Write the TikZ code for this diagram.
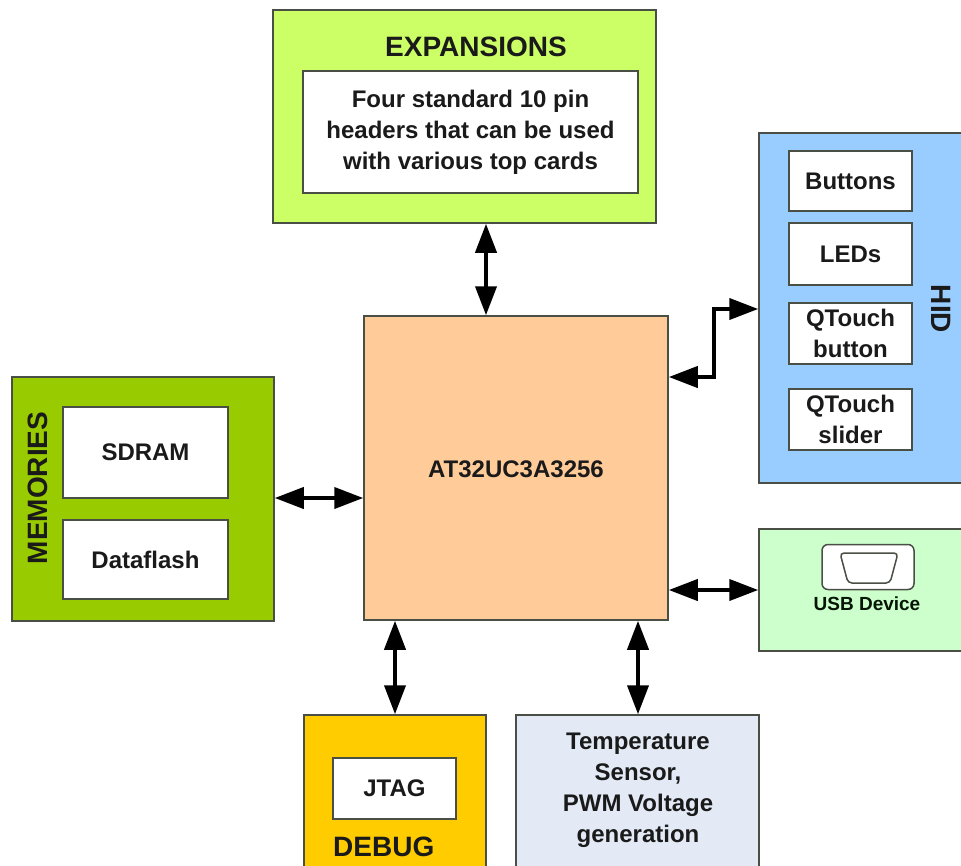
\documentclass[tikz,border=0pt]{standalone}
\usepackage{fontspec}
\setmainfont{Liberation Sans}
\usetikzlibrary{arrows.meta,calc}
\definecolor{cExp}{HTML}{CCFF66}
\definecolor{cHid}{HTML}{99CCFF}
\definecolor{cUsb}{HTML}{CCFFCC}
\definecolor{cCore}{HTML}{FFCC99}
\definecolor{cMem}{HTML}{99CC00}
\definecolor{cDbg}{HTML}{FFCC00}
\definecolor{cTmp}{HTML}{E3EAF6}
\definecolor{cLine}{HTML}{4A4F45}
\definecolor{cInk}{HTML}{1A1A1A}
\tikzset{
  x=1pt,y=-1pt,
  box/.style={draw=cLine,line width=1.5pt,inner sep=0pt,align=center,text=cInk,font=\fontsize{24}{31}\selectfont\bfseries},
  inner box/.style={box,fill=white,draw=#1},
  inner box/.default=cLine,
  title text/.style={inner sep=0pt,text=cInk,font=\fontsize{28}{32}\selectfont\bfseries},
  link/.style={draw=black,line width=4pt,{Triangle[length=29pt,width=21pt]}-{Triangle[length=29pt,width=21pt]}},
}
\newcommand{\bx}[7][]{%
  \node[box,#1,fill=#7,minimum width=#4-#3,minimum height=#6-#5] (#2) at ({(#3+#4)/2},{(#5+#6)/2}) {};}
\newcommand{\ib}[7][]{%
  \node[inner box,minimum width=#4-#3,minimum height=#6-#5] (#2) at ({(#3+#4)/2},{(#5+#6)/2}) {#7};}
\begin{document}
\begin{tikzpicture}
\useasboundingbox (0,0) rectangle (961,865);
\clip (0,0) rectangle (961,865);
\fill[white] (0,0) rectangle (961,865);
% outer boxes
\bx{exp}{273}{656}{10}{223}{cExp}
\bx{hid}{759}{975}{133}{483}{cHid}
\bx{usb}{759}{975}{529}{651}{cUsb}
\bx{core}{364}{668}{316}{620}{cCore}
\bx{mem}{12}{274}{377}{621}{cMem}
\bx{dbg}{304}{486}{715}{885}{cDbg}
\bx{tmp}{516}{759}{715}{885}{cTmp}
% inner boxes
\ib{expi}{303}{638}{71}{193}{Four standard 10 pin\\headers that can be used\\with various top cards}
\ib{btn}{789}{912}{151}{211}{Buttons}
\ib{led}{789}{912}{223}{285}{LEDs}
\ib{qtb}{789}{912}{303}{364}{QTouch\\button}
\ib{qts}{789}{912}{389}{450}{QTouch\\slider}
\ib{sdr}{63}{228}{407}{498}{SDRAM}
\ib{dfl}{63}{228}{520}{599}{Dataflash}
\ib{jtg}{333}{456}{758}{819}{JTAG}
% titles and labels
\node[title text] (expt) at (476,47) {EXPANSIONS};
\node[title text,rotate=-90] (hidt) at (941,309) {HID};
\node[title text,rotate=90] (memt) at (38,488) {MEMORIES};
\node[title text,anchor=west] (dbgt) at (333,847) {DEBUG};
\node[box,draw=none,text=cInk] (corel) at (516,469) {AT32UC3A3256};
\node[box,draw=none] (tmpl) at (638,790) {Temperature\\Sensor,\\PWM Voltage\\generation};
% USB connector icon
\node[draw=cLine,fill=white,line width=1.5pt,rounded corners=6pt,minimum width=92pt,minimum height=45pt,inner sep=0pt] (usbi) at (868,567) {};
\draw[cLine,line width=1.5pt,fill=white,rounded corners=4pt] (840,553) -- (898,553) -- (890,583) -- (848,583) -- cycle;
\node[inner sep=0pt,text=cInk!80!green!30!black,font=\fontsize{19}{22}\selectfont\bfseries] (usbl) at (867,604) {USB Device};
% connectors
\coordinate (hb) at (hid.west |- 0,309);
\coordinate (ha) at (core.east |- 0,377);
\draw[link] (exp.south -| 486,0) -- (core.north -| 486,0);
\draw[link] (mem.east |- 0,498) -- (core.west |- 0,498);
\draw[link] (core.south -| 395,0) -- (dbg.north -| 395,0);
\draw[link] (core.south -| 638,0) -- (tmp.north -| 638,0);
\draw[link] (core.east |- 0,590) -- (usb.west |- 0,590);
\draw[link,line join=miter] (ha) -- (714,377) -- (714,309) -- (hb);
\end{tikzpicture}
\end{document}
